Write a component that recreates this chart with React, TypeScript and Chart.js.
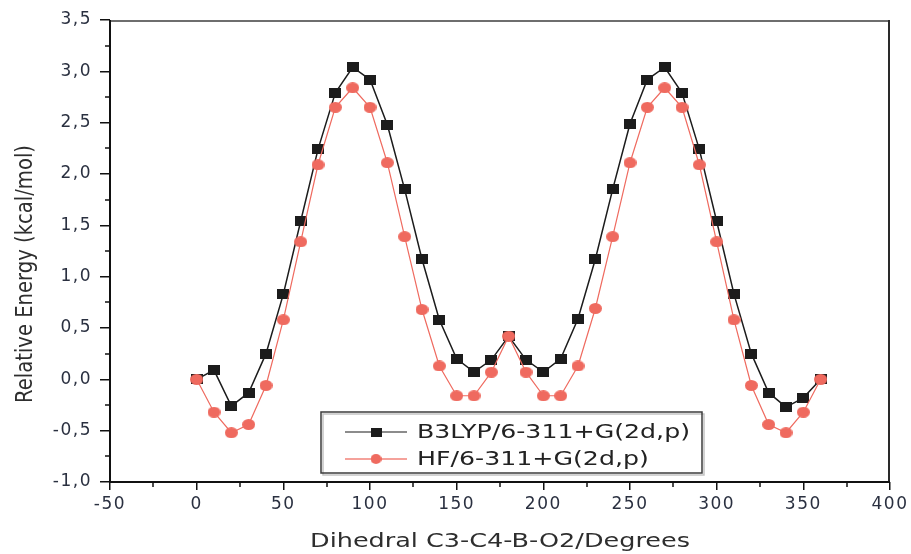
import React, { useEffect, useRef } from 'react';
import { Chart, registerables } from 'chart.js';

Chart.register(...registerables);

// ---------- data ----------
const angles = [0, 10, 20, 30, 40, 50, 60, 70, 80, 90, 100, 110, 120, 130, 140, 150, 160, 170, 180,
  190, 200, 210, 220, 230, 240, 250, 260, 270, 280, 290, 300, 310, 320, 330, 340, 350, 360];

const b3lyp = [0, 0.09, -0.26, -0.13, 0.25, 0.83, 1.54, 2.24, 2.79, 3.04, 2.92, 2.48, 1.85, 1.17, 0.58,
  0.20, 0.07, 0.19, 0.42, 0.19, 0.07, 0.20, 0.59, 1.17, 1.85, 2.49, 2.92, 3.04, 2.79, 2.24, 1.54, 0.83,
  0.25, -0.13, -0.27, -0.18, 0];

const hf = [0, -0.32, -0.52, -0.44, -0.06, 0.58, 1.34, 2.09, 2.65, 2.84, 2.65, 2.11, 1.39, 0.68, 0.13,
  -0.16, -0.16, 0.07, 0.42, 0.07, -0.16, -0.16, 0.13, 0.69, 1.39, 2.11, 2.65, 2.84, 2.65, 2.09, 1.34, 0.58,
  -0.06, -0.44, -0.52, -0.32, 0];

const seriesLabels = ['B3LYP/6-311+G(2d,p)', 'HF/6-311+G(2d,p)'];
const xTitle = 'Dihedral C3-C4-B-O2/Degrees';
const yTitle = 'Relative Energy (kcal/mol)';
const xRange = [-50, 400];
const yRange = [-1, 3.5];
const xMinorTicks = [-25, 25, 75, 125, 175, 225, 275, 325, 375];
const yMinorTicks = [-0.75, -0.25, 0.25, 0.75, 1.25, 1.75, 2.25, 2.75, 3.25];

// ---------- styles ----------
const BLACK = '#1c1c1c';
const CORAL = '#ef6a5f';
const FONT = '"DejaVu Sans", "Liberation Sans", Arial, sans-serif';

function makeRect(w: number, h: number, color: string) {
  const c = document.createElement('canvas');
  c.width = w; c.height = h;
  const g = c.getContext('2d')!;
  g.fillStyle = color;
  g.fillRect(0, 0, w, h);
  return c;
}
function makeEllipse(w: number, h: number, color: string) {
  const c = document.createElement('canvas');
  c.width = w; c.height = h;
  const g = c.getContext('2d')!;
  g.fillStyle = color;
  g.beginPath();
  g.ellipse(w / 2, h / 2, w / 2, h / 2, 0, 0, Math.PI * 2);
  g.fill();
  return c;
}

function stretchedText(ctx: CanvasRenderingContext2D, text: string, x: number, y: number,
  targetW: number, sy: number, align: 'left' | 'center') {
  const w = ctx.measureText(text).width;
  const sx = targetW / w;
  ctx.save();
  ctx.translate(x, y);
  ctx.scale(sx, sy);
  ctx.textAlign = align;
  ctx.fillText(text, 0, 0);
  ctx.restore();
}

export default function App() {
  const ref = useRef<HTMLCanvasElement>(null);

  useEffect(() => {
    const canvas = ref.current!;
    const sqPt = makeRect(12, 10, BLACK);
    const ciPt = makeEllipse(13, 11, CORAL);
    const sqLeg = makeRect(11, 9, BLACK);
    const ciLeg = makeEllipse(11, 10, CORAL);

    const decor = {
      id: 'decor',
      beforeDraw(chart: any) {
        (chart.ctx as any).letterSpacing = '1.5px';
      },
      afterDraw(chart: any) {
        const ctx: CanvasRenderingContext2D = chart.ctx;
        const { left, right, top, bottom } = chart.chartArea;
        const xs = chart.scales.x;
        const ys = chart.scales.y;
        ctx.save();
        (ctx as any).letterSpacing = '0px';

        // frame
        ctx.lineWidth = 2;
        ctx.strokeStyle = '#6e6e6e';
        ctx.beginPath(); ctx.moveTo(left, top + 1); ctx.lineTo(right, top + 1); ctx.stroke();
        ctx.strokeStyle = '#2a2a2a';
        ctx.beginPath(); ctx.moveTo(right - 1, top); ctx.lineTo(right - 1, bottom); ctx.stroke();
        ctx.strokeStyle = '#111';
        ctx.beginPath(); ctx.moveTo(left, bottom); ctx.lineTo(right, bottom); ctx.stroke();
        ctx.beginPath(); ctx.moveTo(left, top); ctx.lineTo(left, bottom + 1); ctx.stroke();

        // minor ticks
        ctx.lineWidth = 1.5;
        ctx.strokeStyle = '#111';
        xMinorTicks.forEach((v) => {
          const px = Math.round(xs.getPixelForValue(v));
          ctx.beginPath(); ctx.moveTo(px, bottom); ctx.lineTo(px, bottom + 5); ctx.stroke();
        });
        yMinorTicks.forEach((v) => {
          const py = Math.round(ys.getPixelForValue(v));
          ctx.beginPath(); ctx.moveTo(left - 5, py); ctx.lineTo(left, py); ctx.stroke();
        });

        // axis titles
        ctx.fillStyle = '#2e2e2e';
        ctx.font = `20px ${FONT}`;
        ctx.textBaseline = 'alphabetic';
        stretchedText(ctx, xTitle, 500, 547, 380, 1, 'center');
        ctx.save();
        ctx.translate(32, 274);
        ctx.rotate(-Math.PI / 2);
        stretchedText(ctx, yTitle, 0, 0, 258, 1.15, 'center');
        ctx.restore();

        // legend
        const bx = 321, by = 412, bw = 381, bh = 61;
        ctx.fillStyle = '#fff';
        ctx.fillRect(bx, by, bw, bh);
        ctx.strokeStyle = '#c4c4c4';
        ctx.lineWidth = 1.5;
        ctx.strokeRect(bx + 2, by + 2, bw, bh);
        ctx.strokeStyle = '#3c3c3c';
        ctx.lineWidth = 1.5;
        ctx.strokeRect(bx, by, bw, bh);

        const rows = [
          { y: 432, lineColor: '#8c8c8c', lw: 2, img: sqLeg, base: 438 },
          { y: 459, lineColor: '#f2837a', lw: 1.5, img: ciLeg, base: 465 },
        ];
        ctx.font = `19px ${FONT}`;
        const sx = 273 / ctx.measureText(seriesLabels[0]).width;
        rows.forEach((r, i) => {
          ctx.strokeStyle = r.lineColor;
          ctx.lineWidth = r.lw;
          ctx.beginPath(); ctx.moveTo(345, r.y); ctx.lineTo(407, r.y); ctx.stroke();
          ctx.drawImage(r.img, 376 - r.img.width / 2, r.y - r.img.height / 2);
          ctx.fillStyle = '#222';
          ctx.save();
          ctx.translate(417, r.base);
          ctx.scale(sx, 1);
          ctx.textAlign = 'left';
          ctx.fillText(seriesLabels[i], 0, 0);
          ctx.restore();
        });

        ctx.restore();
      },
    };

    const chart = new Chart(canvas, {
      type: 'line',
      data: {
        datasets: [
          {
            label: seriesLabels[0],
            data: angles.map((a, i) => ({ x: a, y: b3lyp[i] })),
            borderColor: BLACK,
            borderWidth: 1.5,
            pointStyle: sqPt as any,
            pointRadius: 6,
            order: 1,
          },
          {
            label: seriesLabels[1],
            data: angles.map((a, i) => ({ x: a, y: hf[i] })),
            borderColor: CORAL,
            borderWidth: 1.2,
            pointStyle: ciPt as any,
            pointRadius: 6,
            order: 0,
          },
        ],
      },
      options: {
        responsive: false,
        animation: false,
        devicePixelRatio: 1,
        layout: { padding: { top: 20, right: 21, left: 0, bottom: 0 } },
        plugins: { legend: { display: false }, tooltip: { enabled: false } },
        scales: {
          x: {
            type: 'linear',
            min: xRange[0],
            max: xRange[1],
            afterFit: (s: any) => { s.height = 72; },
            ticks: {
              stepSize: 50,
              color: '#2a3040',
              font: { family: FONT, size: 17 },
              padding: 4,
              maxRotation: 0,
              callback: (v: any) => String(v),
            },
            grid: { drawOnChartArea: false, drawTicks: true, tickLength: 8, color: '#111', lineWidth: 1.5 },
            border: { display: false },
          },
          y: {
            type: 'linear',
            min: yRange[0],
            max: yRange[1],
            afterFit: (s: any) => { s.width = 110; },
            ticks: {
              stepSize: 0.5,
              color: '#2a3040',
              font: { family: FONT, size: 17 },
              padding: 8,
              callback: (v: any) => Number(v).toFixed(1).replace('.', ','),
            },
            grid: { drawOnChartArea: false, drawTicks: true, tickLength: 10, color: '#111', lineWidth: 1.5 },
            border: { display: false },
          },
        },
      },
      plugins: [decor],
    });
    return () => chart.destroy();
  }, []);

  return (
    <div style={{ position: 'absolute', left: 0, top: 0, width: 911, height: 554, background: '#fff' }}>
      <canvas ref={ref} width={911} height={554} style={{ width: 911, height: 554, display: 'block' }} />
    </div>
  );
}
